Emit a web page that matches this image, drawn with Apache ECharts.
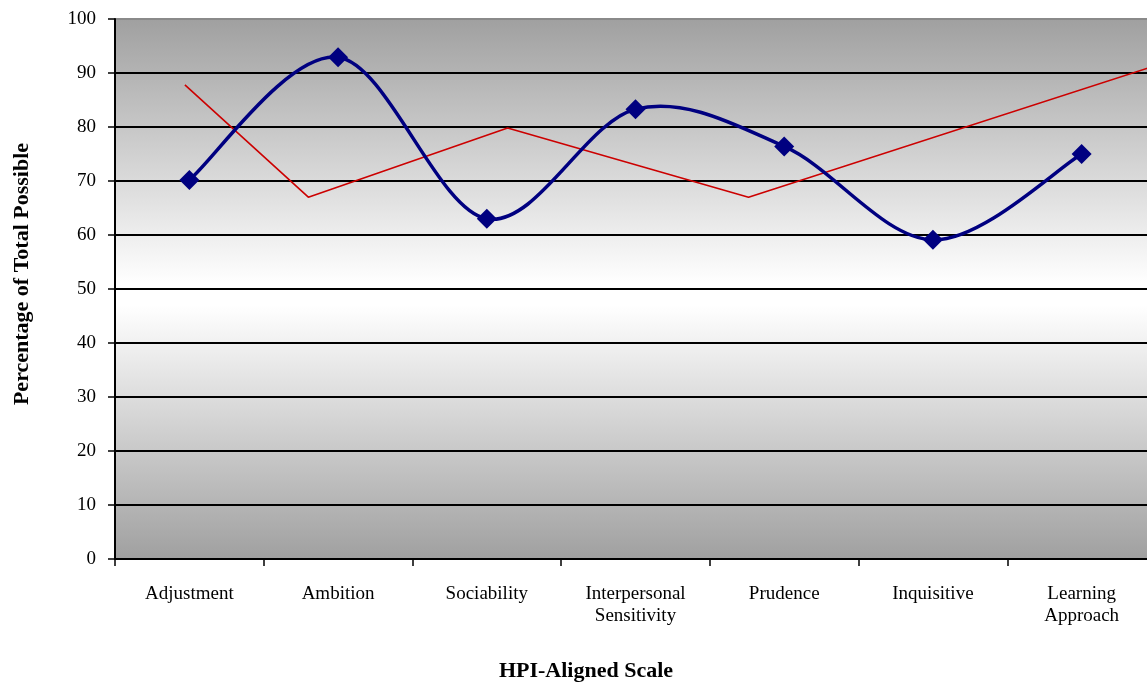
<!DOCTYPE html>
<html>
<head>
<meta charset="utf-8">
<script src="https://cdn.jsdelivr.net/npm/echarts@6/dist/echarts.min.js"></script>
<style>
html,body{margin:0;padding:0;background:#fff;overflow:hidden;}
#chart{width:1156px;height:682px;}
</style>
</head>
<body>
<div id="chart"></div>
<script>
var categories = ['Adjustment','Ambition','Sociability','Interpersonal\nSensitivity','Prudence','Inquisitive','Learning\nApproach'];
var scores = [70.2, 92.9, 63.0, 83.3, 76.4, 59.1, 75.0];
// red reference line: x positions measured in category widths from the left axis, and values
var refX = [0.47, 1.30, 2.64, 4.26, 7.0];
var refY = [87.8, 67.0, 79.8, 67.0, 91.4];
var yTicks = [0,10,20,30,40,50,60,70,80,90,100];

var refData = refX.map(function(x,i){return [x, refY[i]];});
var FONT = '"Liberation Serif", "Times New Roman", serif';
var chart = echarts.init(document.getElementById('chart'));
var splitColors = yTicks.map(function(t){return t===100 ? '#8a8a8a' : '#000000';});

// Excel-style smooth (Catmull-Rom) curve through the data points, positioned by the axes
function renderSmooth(params, api){
  if (params.dataIndex !== 0) return null;
  var pts = scores.map(function(v,i){return api.coord([i, v]);});
  var d = 'M' + pts[0][0] + ' ' + pts[0][1];
  for (var i = 0; i < pts.length - 1; i++){
    var p0 = pts[Math.max(i-1,0)], p1 = pts[i], p2 = pts[i+1], p3 = pts[Math.min(i+2, pts.length-1)];
    var c1x = p1[0] + (p2[0]-p0[0])/6, c1y = p1[1] + (p2[1]-p0[1])/6;
    var c2x = p2[0] - (p3[0]-p1[0])/6, c2y = p2[1] - (p3[1]-p1[1])/6;
    d += ' C' + c1x + ' ' + c1y + ' ' + c2x + ' ' + c2y + ' ' + p2[0] + ' ' + p2[1];
  }
  return {type:'path', shape:{pathData:d}, style:{stroke:'#000080', lineWidth:3.5, fill:null}};
}

chart.setOption({
  animation:false,
  backgroundColor:'#ffffff',
  grid:{left:115, top:19, right:0, bottom:123, show:true, borderWidth:0,
    backgroundColor:{type:'linear',x:0,y:0,x2:0,y2:1,colorStops:[
      {offset:0,color:'#a0a0a0'},{offset:0.49,color:'#ffffff'},{offset:0.53,color:'#ffffff'},{offset:1,color:'#a0a0a0'}]}},
  xAxis:[{
    type:'category', data:categories, boundaryGap:true,
    axisLine:{lineStyle:{color:'#000',width:2}},
    axisTick:{show:true,length:7,lineStyle:{color:'#000',width:1.5}},
    axisLabel:{fontFamily:FONT,fontSize:19,color:'#000',margin:24,lineHeight:22,interval:0},
    splitLine:{show:false}
  },{
    type:'value', min:0, max:7, show:false
  }],
  yAxis:{
    type:'value', min:0, max:100, interval:10,
    axisLine:{show:true,lineStyle:{color:'#000',width:2}},
    axisTick:{show:true,length:7,lineStyle:{color:'#000',width:1.5}},
    axisLabel:{fontFamily:FONT,fontSize:19,color:'#000',margin:19},
    splitLine:{show:true,lineStyle:{color:splitColors,width:2}}
  },
  graphic:[
    {type:'text',x:22,y:274,rotation:Math.PI/2,
      style:{text:'Percentage of Total Possible',font:'bold 22px '+FONT,fill:'#000',textAlign:'center',textVerticalAlign:'middle'}},
    {type:'text',x:586,y:671,
      style:{text:'HPI-Aligned Scale',font:'bold 22px '+FONT,fill:'#000',textAlign:'center',textVerticalAlign:'middle'}}
  ],
  series:[{
    type:'line', xAxisIndex:1, data:refData, symbol:'none', smooth:false,
    lineStyle:{color:'#cc0000',width:1.6}, z:3
  },{
    type:'custom', xAxisIndex:0, data:scores.map(function(v,i){return [i,v];}),
    renderItem:renderSmooth, z:4, silent:true
  },{
    type:'scatter', xAxisIndex:0, data:scores,
    symbol:'diamond', symbolSize:20,
    itemStyle:{color:'#000080', opacity:1}, z:5
  }]
});
</script>
</body>
</html>
